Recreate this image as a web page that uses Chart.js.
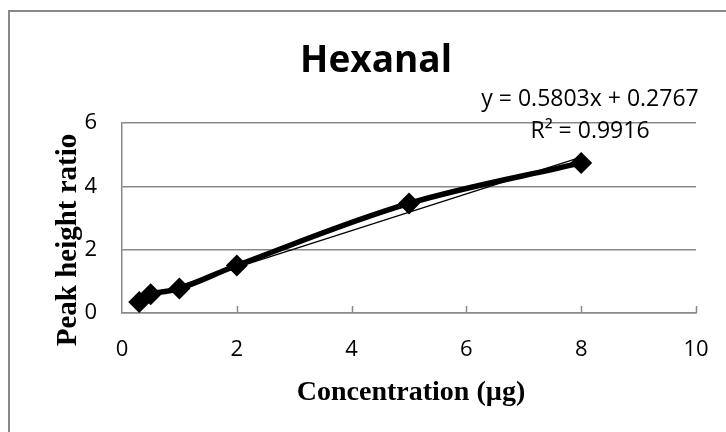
<!DOCTYPE html>
<html>
<head>
<meta charset="utf-8">
<script src="https://cdn.jsdelivr.net/npm/chart.js@4.4.1/dist/chart.umd.min.js"></script>
<style>
  html, body { margin: 0; padding: 0; background: #fff; overflow: hidden; }
  #wrap { position: relative; width: 726px; height: 432px; }
</style>
</head>
<body>
<div id="wrap"><canvas id="hexChart" width="726" height="432"></canvas></div>
<script>
// concentration (µg) vs peak height ratio
const concentration = [0.3, 0.5, 1, 2, 5, 8];
const peakRatio = [0.35, 0.59, 0.77, 1.5, 3.46, 4.74];
const xTicks = [0, 2, 4, 6, 8, 10];
const yTicks = [0, 2, 4, 6];
const slope = 0.5803;
const intercept = 0.2767;
const eqText = "y = 0.5803x + 0.2767";
const r2Text = "R\u00b2 = 0.9916";

const points = concentration.map((x, i) => ({ x: x, y: peakRatio[i] }));
const xFirst = concentration[0];
const xLast = concentration[concentration.length - 1];
const trend = [
  { x: xFirst, y: slope * xFirst + intercept },
  { x: xLast, y: slope * xLast + intercept },
];

// border, titles, equation and the inside tick marks
const extras = {
  id: "extras",
  beforeDraw(chart) {
    const ctx = chart.ctx;
    ctx.save();
    ctx.strokeStyle = "#888";
    ctx.lineWidth = 2;
    ctx.beginPath();
    ctx.moveTo(9, 440);
    ctx.lineTo(9, 11);
    ctx.lineTo(740, 11);
    ctx.stroke();
    ctx.restore();
  },
  afterDraw(chart) {
    const ctx = chart.ctx;
    const xs = chart.scales.x;
    const area = chart.chartArea;
    ctx.save();
    // tick marks pointing up into the plot
    ctx.strokeStyle = "#888";
    ctx.lineWidth = 1.5;
    xTicks.slice(1).forEach((v) => {
      const px = Math.round(xs.getPixelForValue(v)) + 0.5;
      ctx.beginPath();
      ctx.moveTo(px, area.bottom);
      ctx.lineTo(px, area.bottom - 7);
      ctx.stroke();
    });

    ctx.fillStyle = "#000";
    ctx.textAlign = "center";
    ctx.textBaseline = "alphabetic";
    ctx.font = "bold 37px 'Open Sans'";
    ctx.fillText("Hexanal", 376, 72);

    ctx.font = "23px 'Open Sans'";
    ctx.fillText(eqText, 590, 106);
    ctx.fillText(r2Text, 590, 138);

    ctx.font = "bold 28px 'Liberation Serif'";
    ctx.textBaseline = "middle";
    ctx.fillText("Concentration (\u00b5g)", 411, 393);

    ctx.translate(69, 240);
    ctx.rotate(-Math.PI / 2);
    ctx.font = "bold 29px 'Liberation Serif'";
    ctx.fillText("Peak height ratio", 0, 0);
    ctx.restore();
  },
};

const hexChart = new Chart(document.getElementById("hexChart").getContext("2d"), {
  type: "line",
  data: {
    datasets: [
      {
        label: "Hexanal",
        data: points,
        borderColor: "#000",
        backgroundColor: "#000",
        borderWidth: 5.5,
        tension: 0.35,
        pointStyle: "rectRot",
        pointRadius: 11,
        pointBorderWidth: 0,
        pointBackgroundColor: "#000",
      },
      {
        label: "Linear trend",
        data: trend,
        borderColor: "#000",
        borderWidth: 1.3,
        pointRadius: 0,
        tension: 0,
      },
    ],
  },
  plugins: [extras],
  options: {
    responsive: false,
    animation: false,
    events: [],
    layout: {
      padding: { top: 123, right: 30, left: 0, bottom: 0 },
    },
    scales: {
      x: {
        type: "linear",
        min: 0,
        max: 10,
        afterBuildTicks: (scale) => {
          scale.ticks = xTicks.map((v) => ({ value: v }));
        },
        afterFit: (scale) => {
          scale.height = 432 - 313;
          scale.paddingLeft = 0;
          scale.paddingRight = 0;
        },
        grid: { display: false, drawTicks: false },
        border: { display: true, color: "#888", width: 1.5 },
        ticks: {
          color: "#000",
          padding: 24,
          font: { family: "Open Sans", size: 22 },
          maxRotation: 0,
        },
      },
      y: {
        min: 0,
        max: 6,
        afterBuildTicks: (scale) => {
          scale.ticks = yTicks.map((v) => ({ value: v }));
        },
        afterFit: (scale) => {
          scale.width = 122;
        },
        grid: { color: "#888", lineWidth: 1.5, drawTicks: false },
        border: { display: true, color: "#888", width: 1.5 },
        ticks: {
          color: "#000",
          padding: 25,
          font: { family: "Open Sans", size: 22 },
        },
      },
    },
    plugins: {
      legend: { display: false },
      title: { display: false },
      tooltip: { enabled: false },
    },
  },
});
</script>
</body>
</html>
